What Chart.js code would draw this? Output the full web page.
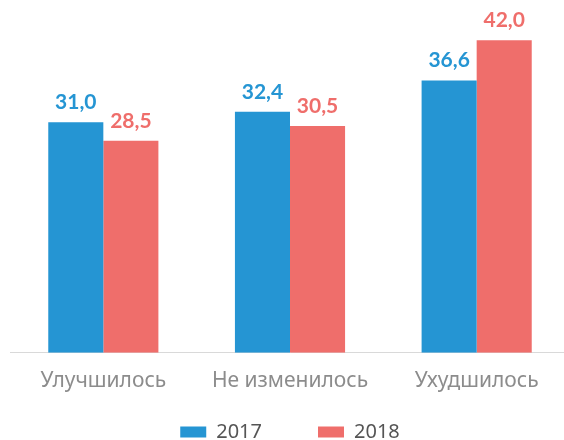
<!DOCTYPE html>
<html><head><meta charset="utf-8">
<script src="https://cdn.jsdelivr.net/npm/chart.js@4"></script>
<style>html,body{margin:0;padding:0;background:#fff;overflow:hidden}#wrap{width:564px;height:440px;overflow:hidden}</style>
</head><body><div id="wrap"><canvas id="c" width="570" height="496"></canvas></div>
<script>
const categories = ["Улучшилось", "Не изменилось", "Ухудшилось"];
const series2017 = [31.0, 32.4, 36.6];
const series2018 = [28.5, 30.5, 42.0];
const seriesNames = ["2017", "2018"];
const colors = ["#2595d3", "#ef6e6b"];

const valueLabels = {
  id: 'valueLabels',
  afterDatasetsDraw(chart) {
    const ctx = chart.ctx;
    ctx.save();
    ctx.font = "bold 21px Lato, 'Noto Sans', sans-serif";
    ctx.textAlign = 'center';
    ctx.textBaseline = 'alphabetic';
    chart.data.datasets.forEach((ds, i) => {
      chart.getDatasetMeta(i).data.forEach((bar, j) => {
        ctx.fillStyle = colors[i];
        ctx.fillText(ds.data[j].toFixed(1).replace('.', ','), bar.x, bar.y - 13);
      });
    });
    ctx.restore();
  }
};

// keep wide horizontal gap between legend items, but pull the legend row up
const legendShift = {
  id: 'legendShift',
  afterLayout(chart) {
    const lg = chart.legend;
    if (lg) { lg.top -= 44; lg.bottom -= 44; }
  }
};

new Chart(document.getElementById('c'), {
  type: 'bar',
  data: {
    labels: categories,
    datasets: [
      { label: seriesNames[0], data: series2017, backgroundColor: colors[0] },
      { label: seriesNames[1], data: series2018, backgroundColor: colors[1] }
    ]
  },
  options: {
    responsive: false,
    animation: false,
    layout: { padding: { left: 10, right: 0, top: 18, bottom: 0 } },
    datasets: { bar: { categoryPercentage: 0.59, barPercentage: 1.0 } },
    scales: {
      x: {
        grid: { display: false, drawTicks: false },
        border: { display: true, color: '#d9d9d9', width: 1 },
        ticks: { color: '#8c8c8c', font: { size: 21, family: "'Noto Sans', sans-serif" }, padding: 16 }
      },
      y: { display: false, min: 0, max: 45 }
    },
    plugins: {
      legend: {
        position: 'bottom',
        labels: { boxWidth: 26, boxHeight: 11, color: '#555', padding: 56, font: { size: 20, family: "'Noto Sans', sans-serif" } }
      },
      tooltip: { enabled: false }
    }
  },
  plugins: [valueLabels, legendShift]
});
</script></body></html>
